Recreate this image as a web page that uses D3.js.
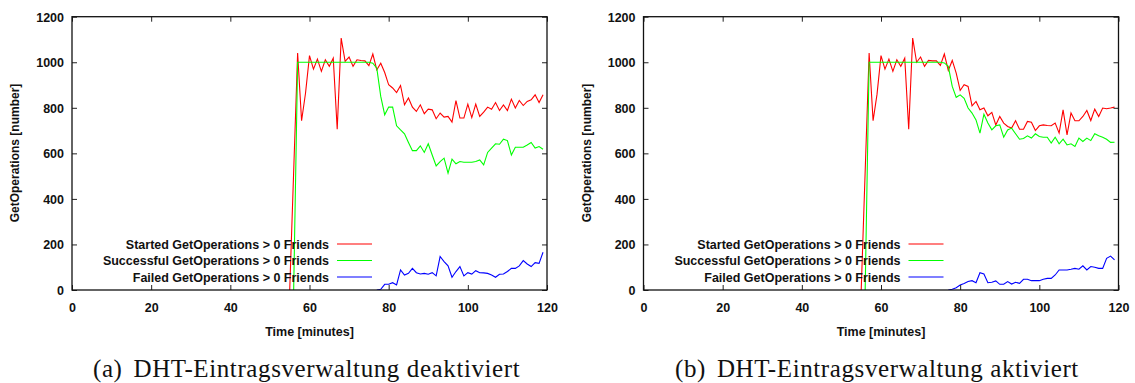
<!DOCTYPE html>
<html><head><meta charset="utf-8">
<script src="https://cdn.jsdelivr.net/npm/d3@7"></script>
<style>
html,body{margin:0;padding:0;background:#fff;}
svg{display:block;}
.tick text{font-family:"Liberation Sans",Arial,sans-serif;font-weight:bold;font-size:12.5px;fill:#111;}
</style></head>
<body>
<svg id="chart" width="1135" height="383"></svg>
<script>
// ---------- data ----------
const xTicks = [0, 20, 40, 60, 80, 100, 120];
const yTicks = [0, 200, 400, 600, 800, 1000, 1200];
const seriesNames = ["Started GetOperations > 0 Friends", "Successful GetOperations > 0 Friends", "Failed GetOperations > 0 Friends"];
const seriesColors = ["#ff0000", "#00ff00", "#0000ff"];
const captions = ["DHT-Eintragsverwaltung deaktiviert", "DHT-Eintragsverwaltung aktiviert"];
const captionTags = ["(a)", "(b)"];

// (a) deaktiviert
const timeStartedA = [55,57,58,59,60,61,62,63,64,65,66,67,68,69,70,71,72,73,74,75,76,77,78,79,80,81,82,83,84,85,86,87,88,89,90,91,92,93,94,95,96,97,98,99,100,101,102,103,104,105,106,107,108,109,110,111,112,113,114,115,116,117,118,119];
const startedA = [0,1040,743,865,1029,970,1014,960,1011,982,1018,706,1106,1004,1023,982,1011,1008,1006,985,1036,967,996,955,901,887,867,898,813,843,803,784,813,774,794,791,752,777,759,762,737,832,755,755,816,757,816,762,781,803,794,823,788,813,788,838,799,832,810,828,835,857,823,857];
const timeSuccessA = [56,57,58,59,60,61,62,63,64,65,66,67,68,69,70,71,72,73,74,75,76,77,78,79,80,81,82,83,84,85,86,87,88,89,90,91,92,93,94,95,96,97,98,99,100,101,102,103,104,105,106,107,108,109,110,111,112,113,114,115,116,117,118,119];
const successA = [0,1000,1000,1000,1000,1000,1000,1000,1000,1000,1000,1000,1000,1000,1000,1000,1000,1000,1000,1000,996,974,850,769,803,803,721,703,686,648,612,612,633,604,642,593,545,564,579,513,575,554,564,561,561,561,564,571,549,604,623,642,640,662,656,593,627,627,627,637,648,623,630,618];
const timeFailedA = [77,78,79,80,81,82,83,84,85,86,87,88,89,90,91,92,93,94,95,96,97,98,99,100,101,102,103,104,105,106,107,108,109,110,111,112,113,114,115,116,117,118,119];
const failedA = [0,3,25,25,32,22,88,66,73,95,76,70,73,69,76,62,147,125,106,56,81,103,62,76,70,85,76,75,73,66,56,69,70,81,95,95,106,129,114,103,120,117,166];

// (b) aktiviert
const timeStartedB = [55,57,58,59,60,61,62,63,64,65,66,67,68,69,70,71,72,73,74,75,76,77,78,79,80,81,82,83,84,85,86,87,88,89,90,91,92,93,94,95,96,97,98,99,100,101,102,103,104,105,106,107,108,109,110,111,112,113,114,115,116,117,118,119];
const startedB = [0,1040,743,860,1029,970,1014,960,1011,982,1018,706,1106,1000,1023,982,1008,1006,1006,986,1036,964,1008,952,876,901,894,809,828,791,799,765,780,725,762,733,718,711,743,706,706,740,737,700,721,725,722,721,733,689,791,681,777,743,743,762,788,744,794,762,799,796,799,803];
const timeSuccessB = [56,57,58,59,60,61,62,63,64,65,66,67,68,69,70,71,72,73,74,75,76,77,78,79,80,81,82,83,84,85,86,87,88,89,90,91,92,93,94,95,96,97,98,99,100,101,102,103,104,105,106,107,108,109,110,111,112,113,114,115,116,117,118,119];
const successB = [0,1000,1000,1000,1000,1000,1000,1000,1000,1000,1000,1000,1000,1000,1000,1000,1000,1000,1000,1000,997,982,894,846,857,842,799,777,747,689,772,733,703,721,725,671,703,711,686,662,665,677,667,686,674,671,671,645,671,642,662,637,642,630,667,652,667,656,686,677,671,662,648,649];
const timeFailedB = [77,78,79,80,81,82,83,84,85,86,87,88,89,90,91,92,93,94,95,96,97,98,99,100,101,102,103,104,105,106,107,108,109,110,111,112,113,114,115,116,117,118,119];
const failedB = [0,3,10,22,29,37,41,32,76,70,32,34,40,25,25,37,26,34,29,47,47,41,41,41,47,51,51,66,88,88,88,91,95,91,106,88,103,100,95,95,139,149,132];

// ---------- drawing ----------
const svg = d3.select("#chart");
const panels = [
  {left: 72, series: [[timeStartedA, startedA], [timeSuccessA, successA], [timeFailedA, failedA]]},
  {left: 643.5, series: [[timeStartedB, startedB], [timeSuccessB, successB], [timeFailedB, failedB]]}
];
const plotW = 475, plotTop = 16.7, plotBottom = 290;
const sansFont = '"Liberation Sans", Arial, sans-serif';
const labelSize = 12.5;

panels.forEach((p, pi) => {
  const x = d3.scaleLinear().domain([0, 120]).range([p.left, p.left + plotW]);
  const y = d3.scaleLinear().domain([0, 1200]).range([plotBottom, plotTop]);
  const g = svg.append("g");

  // data lines
  const clipId = "clip" + pi;
  svg.append("clipPath").attr("id", clipId).append("rect")
    .attr("x", p.left).attr("y", plotTop).attr("width", plotW).attr("height", plotBottom - plotTop);
  const line = d3.line().x(d => x(d[0])).y(d => y(d[1]));
  const lg = g.append("g").attr("clip-path", `url(#${clipId})`);
  p.series.forEach((s, si) => {
    const pts = s[0].map((t, i) => [t, s[1][i]]);
    lg.append("path").datum(pts).attr("d", line)
      .attr("fill", "none").attr("stroke", seriesColors[si]).attr("stroke-width", 1.1)
      .attr("stroke-linejoin", "miter");
  });

  // axes (inward ticks)
  const tickLen = 5;
  const fmt = d3.format("d");
  const ax = g.append("g").attr("transform", `translate(0,${plotBottom})`)
    .call(d3.axisBottom(x).tickValues(xTicks).tickFormat(fmt).tickSize(-tickLen).tickSizeOuter(0));
  const ay = g.append("g").attr("transform", `translate(${p.left},0)`)
    .call(d3.axisLeft(y).tickValues(yTicks).tickFormat(fmt).tickSize(-tickLen).tickPadding(8).tickSizeOuter(0));
  const axT = g.append("g").attr("transform", `translate(0,${plotTop})`)
    .call(d3.axisTop(x).tickValues(xTicks).tickSize(-tickLen).tickFormat("").tickSizeOuter(0));
  const ayR = g.append("g").attr("transform", `translate(${p.left + plotW},0)`)
    .call(d3.axisRight(y).tickValues(yTicks).tickSize(-tickLen).tickFormat("").tickSizeOuter(0));
  [ax, ay, axT, ayR].forEach(a => {
    a.select(".domain").remove();
    a.selectAll(".tick line").attr("stroke", "#222").attr("stroke-width", 1);
  });
  ay.selectAll(".tick text").attr("dy", "0.36em");
  ax.selectAll(".tick text").attr("dy", "0.36em").attr("y", 17);

  // border
  g.append("rect").attr("x", p.left).attr("y", plotTop).attr("width", plotW).attr("height", plotBottom - plotTop)
    .attr("fill", "none").attr("stroke", "#111").attr("stroke-width", 1.3);

  // axis titles
  g.append("text").attr("x", p.left + plotW / 2).attr("y", 331).attr("dy", "0.36em")
    .attr("text-anchor", "middle").attr("font-family", sansFont).attr("font-weight", "bold")
    .attr("font-size", labelSize).attr("fill", "#111").text("Time [minutes]");
  g.append("text").attr("transform", `translate(${p.left - 57},153) rotate(-90)`).attr("dy", "0.36em")
    .attr("text-anchor", "middle").attr("font-family", sansFont).attr("font-weight", "bold")
    .attr("font-size", 12).attr("fill", "#111").text("GetOperations [number]");

  // legend
  const legY = [244, 260.5, 277];
  seriesNames.forEach((n, si) => {
    g.append("text").attr("x", p.left + 257).attr("y", legY[si]).attr("dy", "0.36em")
      .attr("text-anchor", "end").attr("font-family", sansFont).attr("font-weight", "bold")
      .attr("font-size", labelSize).attr("fill", "#111").text(n);
    g.append("line").attr("x1", p.left + 265).attr("x2", p.left + 300)
      .attr("y1", legY[si]).attr("y2", legY[si])
      .attr("stroke", seriesColors[si]).attr("stroke-width", 1.1);
  });

  // caption
  const capX = pi === 0 ? 93 : 675;
  const cap = g.append("text").attr("x", capX).attr("y", 377)
    .attr("font-family", '"Liberation Serif", "Times New Roman", serif')
    .attr("font-size", 25).attr("letter-spacing", 0.6).attr("fill", "#111");
  cap.append("tspan").text(captionTags[pi]);
  cap.append("tspan").attr("dx", 11).text(captions[pi]);
});
</script>
</body></html>
